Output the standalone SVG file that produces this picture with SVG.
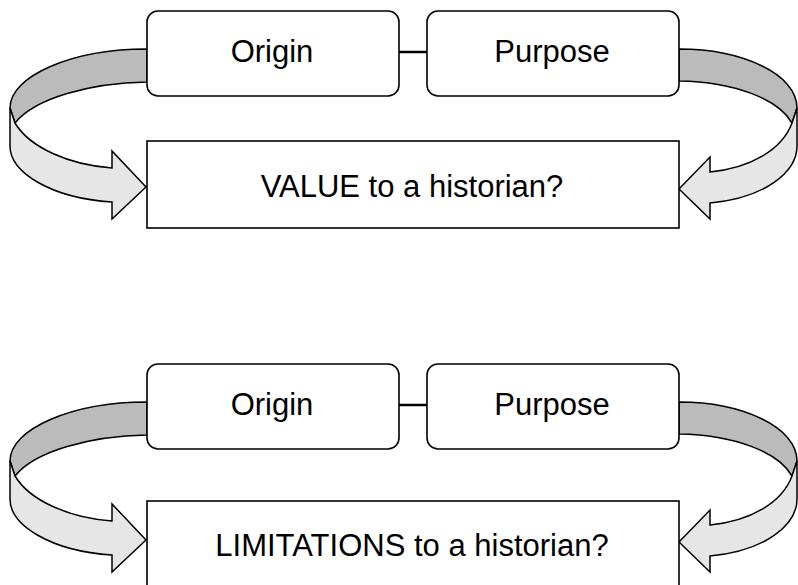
<svg xmlns="http://www.w3.org/2000/svg" width="798" height="585" viewBox="0 0 798 585">
<defs>
<style>
.rb{fill:#fff;stroke:#000;stroke-width:1.6}
.bx{fill:#fff;stroke:#000;stroke-width:1.6}
.dk{fill:#bbbbbb;stroke:#000;stroke-width:1.5;stroke-linejoin:round}
.lt{fill:#e6e6e6;stroke:#000;stroke-width:1.5;stroke-linejoin:miter}
.t{font-family:"Liberation Sans",Arial,sans-serif;font-size:31px;fill:#000;text-anchor:middle}
.ln{stroke:#000;stroke-width:2.5;fill:none}
</style>
</defs>
<rect width="798" height="585" fill="#fff"/>
<g id="connectors">
<g id="top-connectors">
<line class="ln" x1="399" y1="52" x2="427" y2="52"/>
<path class="dk" d="M147,49 C72,49 10,76 10,108 L15,123 C35,98 90,83 147,82 Z"/>
<path class="lt" d="M10,108 L10,146 C10,172 50,198 112,202 L112,219 L146,187 L112,151 L112,168 C70,165 30,148 15,123 Z"/>
<path class="dk" d="M679,49 C742,49 797,74 797,108 L792,123 C778,99 735,82 679,81 Z"/>
<path class="lt" d="M797,108 L797,146 C797,172 765,198 710,203 L710,219 L679,189 L710,157 L710,172 C750,168 782,150 792,123 Z"/>
</g>
<g id="bottom-connectors" transform="translate(0,353)">
<line class="ln" x1="399" y1="52" x2="427" y2="52"/>
<path class="dk" d="M147,49 C72,49 10,76 10,108 L15,123 C35,98 90,83 147,82 Z"/>
<path class="lt" d="M10,108 L10,146 C10,172 50,198 112,202 L112,219 L146,187 L112,151 L112,168 C70,165 30,148 15,123 Z"/>
<path class="dk" d="M679,49 C742,49 797,74 797,108 L792,123 C778,99 735,82 679,81 Z"/>
<path class="lt" d="M797,108 L797,146 C797,172 765,198 710,203 L710,219 L679,189 L710,157 L710,172 C750,168 782,150 792,123 Z"/>
</g>
</g>
<g id="origin1"><rect class="rb" x="147" y="11" width="252" height="85" rx="11"/><text class="t" x="272" y="62">Origin</text></g>
<g id="purpose1"><rect class="rb" x="427" y="11" width="252" height="85" rx="11"/><text class="t" x="552" y="62">Purpose</text></g>
<g id="value"><rect class="bx" x="147" y="141" width="532" height="87"/><text class="t" x="412" y="197">VALUE to a historian?</text></g>
<g id="origin2"><rect class="rb" x="147" y="364" width="252" height="85" rx="11"/><text class="t" x="272" y="415">Origin</text></g>
<g id="purpose2"><rect class="rb" x="427" y="364" width="252" height="85" rx="11"/><text class="t" x="552" y="415">Purpose</text></g>
<g id="limitations"><rect class="bx" x="147" y="501" width="532" height="100"/><text class="t" x="412" y="556">LIMITATIONS to a historian?</text></g>
</svg>
